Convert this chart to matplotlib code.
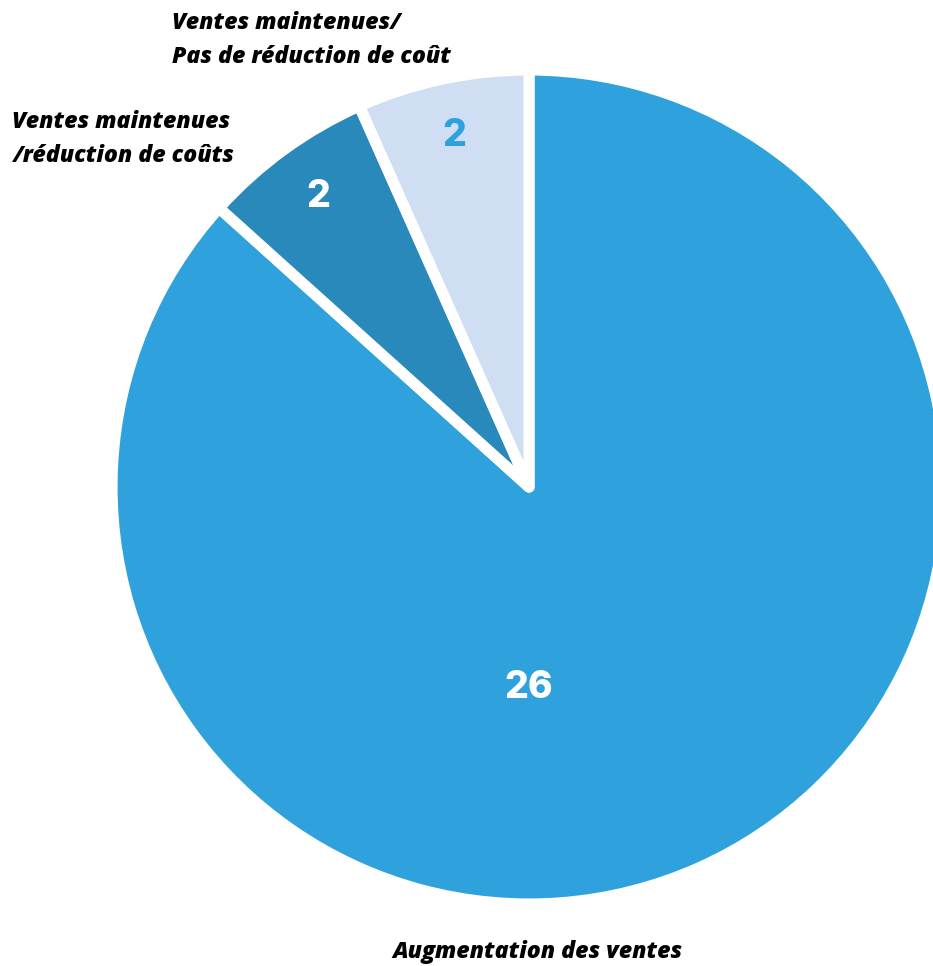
import numpy as np
import matplotlib
matplotlib.use('Agg')
import matplotlib.pyplot as plt

categories = ["Augmentation des ventes",
              "Ventes maintenues\n/réduction de coûts",
              "Ventes maintenues/\nPas de réduction de coût"]
values = [26, 2, 2]
colors = ['#2fa2dd', '#2a89bb', '#d0def3']
value_colors = ['white', 'white', '#2fa2dd']

W, H = 933, 966
fig = plt.figure(figsize=(W / 100, H / 100), dpi=100)
ax = fig.add_axes([0, 0, 1, 1])

cx, cy, r = 529, H - 487, 417
wedges, _ = ax.pie(values, colors=colors, startangle=90, counterclock=False,
                   center=(cx, cy), radius=r,
                   wedgeprops=dict(edgecolor='white', linewidth=8, joinstyle='round'))
ax.set_xlim(0, W)
ax.set_ylim(0, H)
ax.set_aspect('equal')
ax.axis('off')

num_font = dict(family=['Inter', 'DejaVu Sans'], fontsize=27, fontweight='heavy',
                ha='center', va='center')
# big slice label sits straight below the centre
ax.text(cx, cy - 0.482 * r, str(values[0]), color=value_colors[0], **num_font)
for w, v, c in zip(wedges[1:], values[1:], value_colors[1:]):
    ang = np.deg2rad((w.theta1 + w.theta2) / 2)
    ax.text(cx + 0.86 * r * np.cos(ang), cy + 0.86 * r * np.sin(ang), str(v),
            color=c, **num_font)

lab_font = dict(family=['Open Sans', 'DejaVu Sans'], fontsize=16.7, fontweight='heavy',
                style='italic', color='black', linespacing=1.55)
ax.text(537, H - 952, categories[0], ha='center', va='center', **lab_font)
ax.text(12, H - 139, categories[1], ha='left', va='center', **lab_font)
ax.text(172, H - 40, categories[2], ha='left', va='center', **lab_font)

fig.savefig('out.png', dpi=100, facecolor='white')
